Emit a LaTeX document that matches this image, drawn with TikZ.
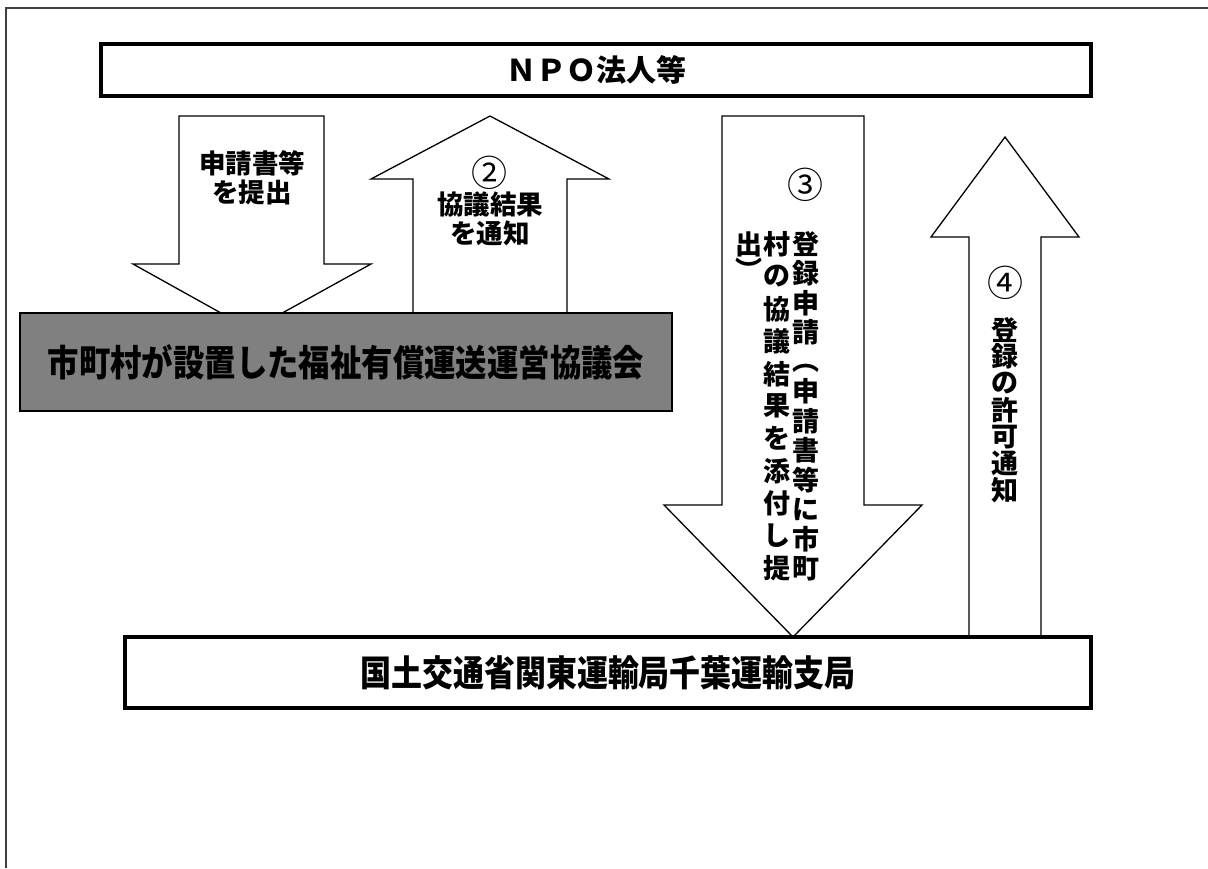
\documentclass[tikz,border=0pt]{standalone}
\usepackage{fontspec}
\newfontfamily\jp{Noto Sans CJK JP}
\newfontfamily\jpc[FakeStretch=0.86]{Noto Sans CJK JP}
\begin{document}
\begin{tikzpicture}[x=1pt,y=-1pt]
\tikzset{
 frameline/.style={draw=black!75, line width=2pt},
 thickbox/.style={draw=black, line width=3.5pt, fill=white, inner sep=0pt},
 graybox/.style={draw=black, line width=1.2pt, fill=black!50, inner sep=0pt},
 blockarrow/.style={draw=black, line width=1.3pt, fill=white, line join=miter},
 lbl/.style={font=\jp\bfseries\fontsize{26.5}{29.5}\selectfont, align=center, inner sep=0pt},
 num/.style={font=\jp\fontsize{36}{36}\selectfont, inner sep=0pt},
 vt/.style={font=\jp\bfseries\fontsize{27}{27}\selectfont, inner sep=0pt},
}
\useasboundingbox (0,0) rectangle (1208,868);
\fill[white] (0,0) rectangle (1208,868);
% frame
\draw[frameline] (1208,8) -- (6,8) -- (6,868);
% NPO box
\node[thickbox, minimum width=990pt, minimum height=52pt,
      font=\jp\bfseries\fontsize{30}{30}\selectfont] (npo) at (596,70) {ＮＰＯ法人等};
% arrow A (down)
\draw[blockarrow] (179,116) -- (324,116) -- (324,264) -- (371,264) -- (251.5,330)
   -- (133,264) -- (179,264) -- cycle;
\node[lbl] (la) at (252,178) {申請書等\\を提出};
% arrow B (up)
\draw[blockarrow] (490,116) -- (609,179) -- (567,179) -- (567,330) -- (413,330)
   -- (413,179) -- (371,179) -- cycle;
\node[num] (n2) at (489,173) {②};
\node[lbl] (lb) at (490,219) {協議結果\\を通知};
% gray box
\node[graybox, minimum width=652pt, minimum height=98pt,
      font=\jpc\bfseries\fontsize{36.5}{36.5}\selectfont] (council) at (346,362)
      {市町村が設置した福祉有償運送運営協議会};
% arrow C (down)
\draw[blockarrow] (722,116) -- (864,116) -- (864,505) -- (922,505) -- (793,637)
   -- (664,505) -- (722,505) -- cycle;
\node[num] (n3) at (805,185) {③};
\foreach \ch [count=\i from 0] in {登,録,申,請}
  \node[vt] (ca\i) at (806,244+\i*29.5) {\ch};
\node[vt] (cap) at (806,244+4*29.5+6) {︵};
\foreach \ch [count=\i from 5] in {申,請,書,等,に,市,町}
  \node[vt] (ca\i) at (806,244+\i*29.5) {\ch};
\foreach \ch [count=\i from 0] in {村,の,協,議,結,果,を,添,付,し,提}
  \node[vt] (cb\i) at (777,244+\i*32.45) {\ch};
\node[vt] (cc0) at (749,244) {出};
\node[vt] (cc1) at (749,244+29.5-4) {︶};
% arrow D (up)
\draw[blockarrow] (1005,137) -- (1079,237) -- (1041,237) -- (1041,650) -- (969,650)
   -- (969,237) -- (931,237) -- cycle;
\node[num] (n4) at (1005,283) {④};
\foreach \ch [count=\i from 0] in {登,録,の,許,可,通,知}
  \node[vt] (cd\i) at (1005,330+\i*26.7) {\ch};
% bottom box
\node[thickbox, minimum width=966pt, minimum height=71pt,
      font=\jpc\bfseries\fontsize{36}{36}\selectfont] (bureau) at (608,672.5)
      {国土交通省関東運輸局千葉運輸支局};
\end{tikzpicture}
\end{document}
